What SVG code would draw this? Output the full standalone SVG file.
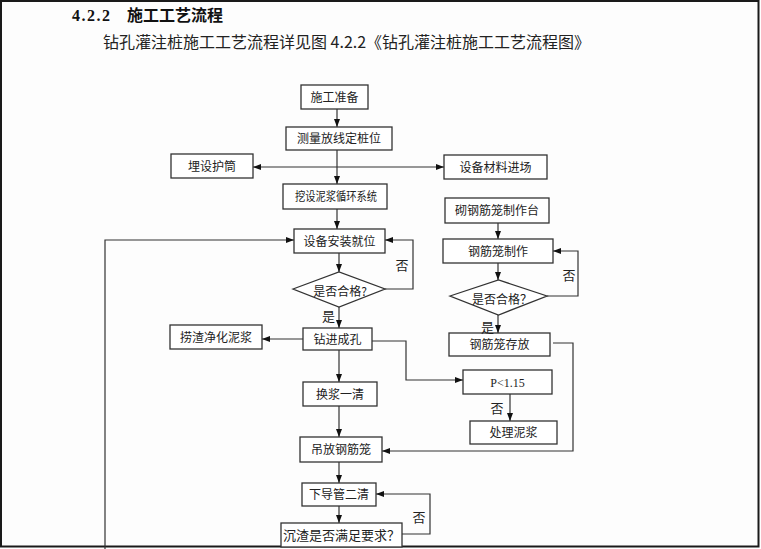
<svg xmlns="http://www.w3.org/2000/svg" width="761" height="549" viewBox="0 0 761 549">
<defs>
<marker id="ah" markerWidth="8" markerHeight="6" refX="8" refY="3" orient="auto" markerUnits="userSpaceOnUse">
<path d="M0,0 L8,3 L0,6 Z" fill="#111"/>
</marker>
<style>
.box{fill:#fff;stroke:#333;stroke-width:1.3}
.t{font-family:"Noto Sans CJK SC","Noto Sans",sans-serif;font-size:12px;fill:#222;text-anchor:middle}
.lbl{font-family:"Noto Sans CJK SC","Noto Sans",sans-serif;font-size:13px;fill:#222;text-anchor:middle}
.c{fill:none;stroke:#333;stroke-width:1.2}
.ca{fill:none;stroke:#333;stroke-width:1.2;marker-end:url(#ah)}
</style>
</defs>
<rect x="0" y="0" width="761" height="549" fill="#fff"/>
<rect x="1" y="1" width="757.5" height="545.5" fill="#fdfdfd" stroke="#1a1a1a" stroke-width="2"/>

<g id="title">
<text x="72" y="21" font-family="'Liberation Serif','Noto Sans CJK SC',serif" font-size="16" font-weight="bold" fill="#111" letter-spacing="1.5">4.2.2</text>
<text x="127" y="21" font-family="'Noto Sans CJK SC',sans-serif" font-size="16" font-weight="bold" fill="#111">施工工艺流程</text>
<text x="103" y="48" font-family="'Noto Sans CJK SC',sans-serif" font-size="16" fill="#222">钻孔灌注桩施工工艺流程详见图 4.2.2《钻孔灌注桩施工工艺流程图》</text>
</g>

<g id="connectors">
<path class="ca" d="M337,109 V127"/>
<path class="ca" d="M337,150 V184"/>
<path class="ca" d="M337,167 H253"/>
<path class="ca" d="M337,167 H444"/>
<path class="ca" d="M337,209 V229"/>
<path class="ca" d="M339,253 V272"/>
<path class="ca" d="M385,289 H413 V240 H385"/>
<path class="ca" d="M339,307 V328"/>
<path class="ca" d="M303,339 H262"/>
<path class="ca" d="M372,341 H406 V380 H463"/>
<path class="ca" d="M339,350 V382"/>
<path class="ca" d="M339,406 V437"/>
<path class="ca" d="M339,462 V483"/>
<path class="ca" d="M339,506 V523"/>
<path class="ca" d="M402,534 H430 V494 H376"/>
<path class="ca" d="M105,549 V240 H294"/>
<path class="ca" d="M498,223 V239"/>
<path class="ca" d="M498,263 V280"/>
<path class="ca" d="M547,296 H578 V251 H553"/>
<path class="ca" d="M498,315 V333"/>
<path class="ca" d="M553,343 H573 V451 H382"/>
<path class="ca" d="M510,394 V421"/>
</g>

<g id="n1"><rect class="box" x="301" y="85" width="67" height="24"/><text class="t" x="334.5" y="101.5">施工准备</text></g>
<g id="n2"><rect class="box" x="286" y="127" width="106" height="23"/><text class="t" x="339" y="143">测量放线定桩位</text></g>
<g id="n3"><rect class="box" x="171" y="154" width="82" height="24"/><text class="t" x="212" y="170.5">埋设护筒</text></g>
<g id="n4"><rect class="box" x="444" y="155" width="103" height="24"/><text class="t" x="495.5" y="171.5">设备材料进场</text></g>
<g id="n5"><rect class="box" x="283" y="184" width="104" height="25"/><text class="t" x="336" y="201" textLength="82" lengthAdjust="spacingAndGlyphs">挖设泥浆循环系统</text></g>
<g id="n6"><rect class="box" x="294" y="229" width="91" height="24"/><text class="t" x="339.5" y="245.5">设备安装就位</text></g>
<g id="d1"><polygon class="box" points="293,289 339,272 385,289 339,307"/><text class="t" x="340" y="295.5">是否合格?</text></g>
<g id="n7"><rect class="box" x="303" y="328" width="69" height="22"/><text class="t" x="337.5" y="343.5">钻进成孔</text></g>
<g id="n8"><rect class="box" x="170" y="325" width="92" height="24"/><text class="t" x="216" y="341.5">捞渣净化泥浆</text></g>
<g id="n9"><rect class="box" x="303" y="382" width="74" height="24"/><text class="t" x="340" y="398.5">换浆一清</text></g>
<g id="n10"><rect class="box" x="300" y="437" width="82" height="25"/><text class="t" x="341" y="454">吊放钢筋笼</text></g>
<g id="n11"><rect class="box" x="302" y="483" width="74" height="23"/><text class="t" x="339" y="499">下导管二清</text></g>
<g id="n12"><rect class="box" x="281" y="523" width="121" height="24"/><text class="t" x="341.5" y="540" style="font-size:13px">沉渣是否满足要求？</text></g>
<g id="n13"><rect class="box" x="445" y="198" width="104" height="25"/><text class="t" x="497" y="215">砌钢筋笼制作台</text></g>
<g id="n14"><rect class="box" x="443" y="239" width="110" height="24"/><text class="t" x="498" y="255.5">钢筋笼制作</text></g>
<g id="d2"><polygon class="box" points="450,296 498.5,280 547,296 498.5,315"/><text class="t" x="502" y="304">是否合格？</text></g>
<g id="n15"><rect class="box" x="449" y="333" width="101" height="23"/><text class="t" x="499.5" y="349">钢筋笼存放</text></g>
<g id="n16"><rect class="box" x="463" y="370" width="89" height="24"/><text x="507.5" y="386.5" font-family="'Liberation Serif',serif" font-size="12" fill="#222" text-anchor="middle">P&lt;1.15</text></g>
<g id="n17"><rect class="box" x="470" y="421" width="87" height="23"/><text class="t" x="513.5" y="437">处理泥浆</text></g>

<g id="labels">
<text class="lbl" x="402" y="270">否</text>
<text class="lbl" x="328.5" y="321">是</text>
<text class="lbl" x="569" y="280">否</text>
<text class="lbl" x="487.5" y="332">是</text>
<text class="lbl" x="497" y="413">否</text>
<text class="lbl" x="419" y="522">否</text>
</g>
</svg>
